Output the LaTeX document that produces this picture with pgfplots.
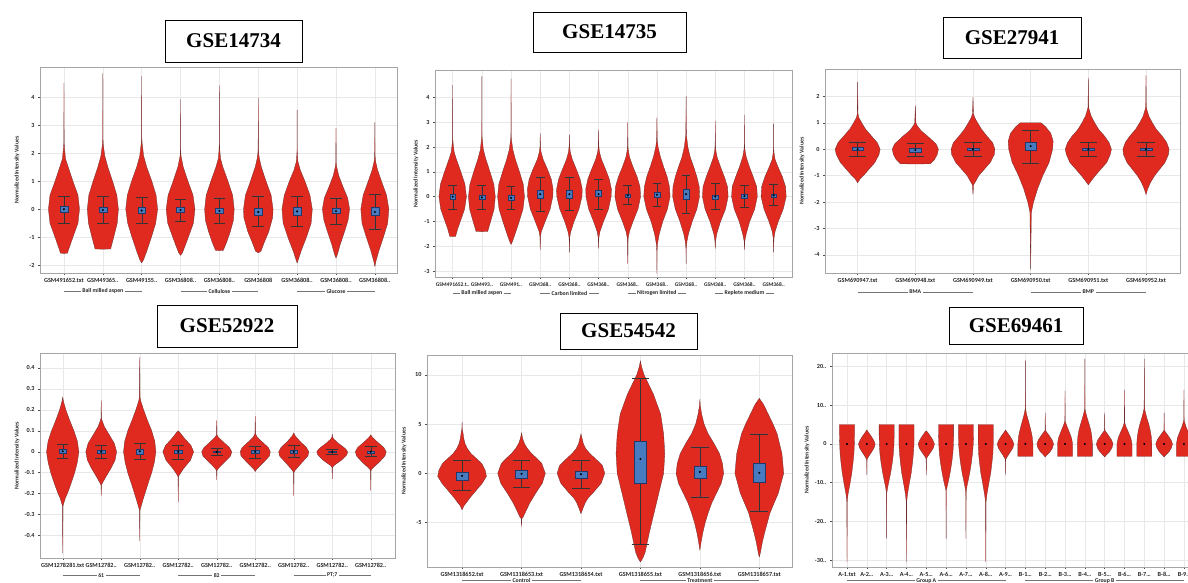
\documentclass[border=0pt]{standalone}
\usepackage{fontspec}
\setmainfont{Liberation Serif}
\setsansfont{Carlito}
\usepackage{pgfplots}
\pgfplotsset{compat=1.18}
\usepgfplotslibrary{statistics}
\definecolor{vred}{RGB}{224,42,32}
\definecolor{vedge}{RGB}{105,45,45}
\definecolor{bblue}{RGB}{72,122,192}
\definecolor{bedge}{RGB}{35,55,105}
\definecolor{frm}{RGB}{165,165,165}
\newcommand\tfont{\sffamily\bfseries\fontsize{6.2}{7}\selectfont}
\newcommand\gfont{\sffamily\bfseries\fontsize{5.8}{6.5}\selectfont}
\tikzset{tbox/.style={draw, line width=0.9pt, inner sep=0pt, font=\bfseries\fontsize{21}{24}\selectfont}}
\pgfplotsset{
  vio/.style={fill=vred, draw=vedge, line width=0.3pt, mark=none},
  boxplot/every whisker/.style={draw=black!80, line width=0.35pt},
  boxplot/every median/.style={draw=none},
  panel/.style={scale only axis, anchor=south west, clip=false,
    axis line style={frm, line width=0.9pt},
    grid=major, grid style={black!9, line width=0.4pt},
    tick pos=left, tick align=outside, major tick length=2pt,
    tick style={black!70, line width=0.4pt},
    ticklabel style={font=\tfont, text=black!85},
    /pgf/number format/assume math mode=true,
    ylabel={Normalized Intensity Values},
    ylabel style={font=\gfont, anchor=center, text=black!85}}
}
% violin: center, list of y/halfwidth (ascending y)
\newcommand\V[2]{%
  \gdef\Rc{}\gdef\Lc{}%
  \foreach \yy/\ww in {#2}{%
    \pgfmathsetmacro\xr{#1+\ww}%
    \pgfmathsetmacro\xl{#1-\ww}%
    \xdef\Rc{\Rc(\xr,\yy)}%
    \xdef\Lc{(\xl,\yy)\Lc}%
  }%
  \edef\tmp{\noexpand\addplot[vio] coordinates {\Rc\Lc};}%
  \tmp}
% box: center, lower whisker, q1, median, q3, upper whisker
\newcommand\B[6]{%
  \addplot[fill=bblue, draw=bedge, line width=0.35pt, boxplot/draw direction=y, boxplot prepared={draw position=#1, lower whisker=#2, lower quartile=#3, median=#4, upper quartile=#5, upper whisker=#6, box extend=0.2, whisker extend=0.3}] coordinates {};
  \addplot[only marks, mark=*, mark size=0.8pt, black] coordinates {(#1,#4)};}
% group bracket: x1, x2, xmid, text, ymin, shift
\newcommand\G[6]{%
  \draw[black!55, line width=0.4pt] ([yshift=#6]axis cs:#1,#5) -- ([yshift=#6]axis cs:#2,#5);
  \node[fill=white, inner xsep=1.5pt, inner ysep=0.3pt, font=\gfont, text=black!85] at ([yshift=#6]axis cs:#3,#5) {#4};}
\begin{document}
\begin{tikzpicture}
\useasboundingbox (0,0) rectangle (1188pt,583pt);
\clip (0,0) rectangle (1188pt,583pt);
\fill[white] (0,0) rectangle (1188pt,583pt);

% ---------------- Panel 1: GSE14734
\begin{axis}[panel, at={(40pt,310pt)}, width=357pt, height=206pt,
  xmin=0.383, xmax=9.57, ymin=-2.28, ymax=5.08, ytick={-2,-1,0,1,2,3,4},
  xtick={1,2,3,4,5,6,7,8,9}, xticklabels={{GSM491652.txt},{GSM49365..},{GSM49155..},{GSM36808..},{GSM36808..},{GSM36808},{GSM36808..},{GSM36808..},{GSM36808..}},
  ylabel style={at={(axis description cs:-0.064,0.5)}}]
\V{1}{-1.58/0,-1.57/0.09,-1.4/0.13,-1/0.23,-0.5/0.36,0/0.40,0.5/0.36,1/0.23,1.5/0.11,1.8/0.04,2.2/0.012,2.4/0.004,4.5/0}
\V{2}{-1.43/0,-1.42/0.2,-1/0.28,-0.5/0.37,0/0.40,0.5/0.36,1/0.25,1.5/0.13,1.9/0.05,2.3/0.012,2.5/0.004,4.85/0}
\V{3}{-1.92/0,-1.8/0.05,-1.5/0.13,-1/0.25,-0.5/0.36,0/0.41,0.5/0.37,1/0.26,1.5/0.13,1.9/0.05,2.35/0.012,2.5/0.004,4.75/0}
\V{4}{-1.65/0,-1.55/0.05,-1.3/0.12,-1/0.2,-0.5/0.33,0/0.37,0.5/0.32,1/0.19,1.5/0.07,1.9/0.012,2.1/0.004,3.92/0}
\V{5}{-1.48/0,-1.47/0.1,-1.2/0.18,-0.8/0.28,-0.4/0.36,0/0.38,0.5/0.34,1/0.22,1.5/0.09,1.8/0.03,2.1/0.01,2.3/0.004,4.42/0}
\V{6}{-1.56/0,-1.5/0.07,-1.2/0.15,-0.8/0.27,-0.3/0.37,0/0.38,0.5/0.33,1/0.2,1.5/0.08,1.8/0.03,2/0.01,2.2/0.004,3.97/0}
\V{7}{-1.93/0,-1.8/0.03,-1.5/0.1,-1/0.24,-0.5/0.36,0/0.39,0.5/0.33,1/0.2,1.4/0.08,1.7/0.02,1.95/0.008,2.1/0.003,3.55/0}
\V{8}{-1.75/0,-1.6/0.04,-1.3/0.1,-0.8/0.22,-0.4/0.31,0/0.35,0.4/0.3,0.8/0.18,1.2/0.07,1.5/0.02,1.65/0.006,2.9/0}
\V{9}{-2.05/0,-1.85/0.03,-1.5/0.1,-1/0.22,-0.5/0.33,0/0.36,0.5/0.3,1/0.17,1.4/0.07,1.7/0.02,1.9/0.006,3.1/0}
\B{1}{-0.5}{-0.1}{0}{0.1}{0.45}
\B{2}{-0.5}{-0.12}{-0.03}{0.08}{0.47}
\B{3}{-0.5}{-0.14}{-0.05}{0.06}{0.42}
\B{4}{-0.42}{-0.12}{-0.03}{0.07}{0.36}
\B{5}{-0.5}{-0.15}{-0.06}{0.05}{0.4}
\B{6}{-0.62}{-0.2}{-0.1}{0.04}{0.48}
\B{7}{-0.62}{-0.2}{-0.08}{0.06}{0.46}
\B{8}{-0.55}{-0.16}{-0.07}{0.04}{0.4}
\B{9}{-0.7}{-0.22}{-0.1}{0.08}{0.52}
\G{1}{3}{2}{Ball milled aspen}{-2.28}{-18pt}
\G{4}{6}{5}{Cellulose}{-2.28}{-18pt}
\G{7}{9}{8}{Glucose}{-2.28}{-18pt}
\end{axis}

% ---------------- Panel 2: GSE14735
\begin{axis}[panel, at={(435pt,306pt)}, width=357pt, height=207pt,
  xmin=0.394, xmax=12.63, ymin=-3.24, ymax=5.11, ytick={-3,-2,-1,0,1,2,3,4},
  xtick={1,2,3,4,5,6,7,8,9,10,11,12}, xticklabels={{GSM491652.t..},{GSM493..},{GSM491..},{GSM368..},{GSM368..},{GSM368..},{GSM368..},{GSM368..},{GSM368..},{GSM368..},{GSM368..},{GSM368..}},
  xticklabel style={font=\sffamily\bfseries\fontsize{5.5}{6.5}\selectfont},
  ylabel style={at={(axis description cs:-0.053,0.5)}}]
\V{1}{-1.61/0,-1.6/0.1,-1.3/0.17,-1/0.26,-0.5/0.41,0/0.47,0.5/0.42,1/0.28,1.5/0.13,1.8/0.05,2.15/0.015,2.3/0.005,4.5/0}
\V{2}{-1.41/0,-1.4/0.2,-1/0.3,-0.5/0.42,0/0.46,0.5/0.41,1/0.28,1.5/0.14,1.9/0.05,2.3/0.015,2.45/0.005,4.85/0}
\V{3}{-1.93/0,-1.8/0.05,-1.5/0.14,-1/0.28,-0.5/0.41,0/0.46,0.5/0.42,1/0.29,1.5/0.15,1.9/0.06,2.3/0.015,2.45/0.005,4.75/0}
\V{4}{-2.15/0,-1.6/0.01,-1.4/0.04,-1/0.17,-0.5/0.34,0/0.43,0.3/0.44,0.7/0.38,1.1/0.25,1.5/0.1,1.8/0.03,2/0.008,2.55/0}
\V{5}{-2.25/0,-1.65/0.01,-1.4/0.05,-1/0.16,-0.5/0.33,0/0.43,0.3/0.44,0.7/0.37,1.1/0.24,1.5/0.1,1.8/0.03,2.05/0.008,2.5/0}
\V{6}{-2.1/0,-1.65/0.01,-1.4/0.05,-1/0.17,-0.5/0.34,0/0.43,0.3/0.44,0.7/0.37,1.1/0.24,1.5/0.1,1.8/0.03,2.05/0.008,2.7/0}
\V{7}{-2.7/0,-1.7/0.01,-1.4/0.06,-1/0.18,-0.5/0.35,0/0.44,0.4/0.42,0.8/0.32,1.2/0.18,1.6/0.06,1.9/0.015,2.1/0.005,3/0}
\V{8}{-3.1/0,-2.2/0.005,-1.9/0.02,-1.5/0.08,-1/0.2,-0.5/0.36,0/0.45,0.4/0.43,0.8/0.35,1.2/0.23,1.6/0.12,2/0.04,2.3/0.01,3.2/0}
\V{9}{-2.7/0,-2.1/0.005,-1.8/0.03,-1.5/0.08,-1/0.21,-0.5/0.37,0/0.46,0.4/0.45,0.8/0.37,1.2/0.26,1.6/0.14,2/0.06,2.5/0.01,4.05/0}
\V{10}{-2.1/0,-1.8/0.01,-1.5/0.05,-1/0.18,-0.5/0.35,0/0.44,0.4/0.42,0.8/0.31,1.2/0.18,1.6/0.06,1.9/0.015,2.1/0.005,3.05/0}
\V{11}{-2.15/0,-1.8/0.01,-1.5/0.06,-1/0.18,-0.5/0.35,0/0.44,0.4/0.42,0.8/0.3,1.2/0.17,1.6/0.06,1.9/0.015,2.1/0.005,3.3/0}
\V{12}{-2.25/0,-1.7/0.01,-1.4/0.05,-1/0.16,-0.5/0.33,0/0.43,0.4/0.41,0.8/0.3,1.2/0.15,1.5/0.05,1.8/0.01,2/0.004,2.95/0}
\B{1}{-0.5}{-0.12}{0}{0.12}{0.47}
\B{2}{-0.5}{-0.12}{-0.03}{0.08}{0.47}
\B{3}{-0.5}{-0.14}{-0.05}{0.06}{0.42}
\B{4}{-0.6}{-0.05}{0.1}{0.28}{0.8}
\B{5}{-0.55}{-0.05}{0.1}{0.28}{0.8}
\B{6}{-0.5}{0}{0.1}{0.25}{0.7}
\B{7}{-0.3}{-0.02}{0.05}{0.12}{0.45}
\B{8}{-0.38}{-0.04}{0.08}{0.18}{0.55}
\B{9}{-0.68}{-0.1}{0.1}{0.32}{0.88}
\B{10}{-0.5}{-0.1}{0}{0.08}{0.55}
\B{11}{-0.42}{-0.08}{0.02}{0.1}{0.47}
\B{12}{-0.35}{-0.02}{0.05}{0.12}{0.52}
\G{1}{3}{2}{Ball milled aspen}{-3.24}{-16pt}
\G{4}{6}{5}{Carbon limited}{-3.24}{-16pt}
\G{7}{9}{8}{Nitrogen limited}{-3.24}{-16pt}
\G{10}{12}{11}{Replete medium}{-3.24}{-16pt}
\end{axis}

% ---------------- Panel 3: GSE27941
\begin{axis}[panel, at={(825pt,310pt)}, width=355pt, height=204pt,
  xmin=0.434, xmax=6.59, ymin=-4.69, ymax=3.04, ytick={-4,-3,-2,-1,0,1,2},
  xtick={1,2,3,4,5,6}, xticklabels={{GSM690947.txt},{GSM690948.txt},{GSM690949.txt},{GSM690950.txt},{GSM690951.txt},{GSM690952.txt}},
  ylabel style={at={(axis description cs:-0.065,0.5)}}]
\V{1}{-1.27/0,-1.1/0.05,-1/0.1,-0.75/0.2,-0.5/0.3,-0.2/0.37,0/0.39,0.25/0.34,0.5/0.24,0.75/0.14,1/0.07,1.2/0.02,1.35/0.006,2.55/0}
\V{2}{-0.56/0,-0.55/0.26,-0.4/0.33,-0.2/0.38,0/0.40,0.2/0.36,0.4/0.26,0.5/0.21,0.7/0.1,0.9/0.03,1.0/0.01,1.65/0}
\V{3}{-1.72/0,-1.35/0.01,-1.2/0.05,-1/0.1,-0.75/0.2,-0.5/0.3,-0.2/0.37,0/0.38,0.25/0.34,0.5/0.24,0.75/0.15,1/0.08,1.2/0.03,1.35/0.008,1.97/0}
\V{4}{-4.55/0,-2.4/0.012,-2.2/0.03,-2/0.05,-1.5/0.12,-1/0.21,-0.5/0.32,0/0.38,0.3/0.39,0.6/0.35,0.85/0.26,1/0.18,1/0}
\V{5}{-1.35/0,-1.2/0.05,-1/0.12,-0.75/0.22,-0.5/0.32,-0.2/0.38,0/0.40,0.25/0.36,0.5/0.28,0.75/0.18,1/0.11,1.25/0.05,1.5/0.015,1.6/0.005,2.7/0}
\V{6}{-1.72/0,-1.5/0.03,-1.25/0.08,-1/0.15,-0.75/0.24,-0.5/0.33,-0.2/0.39,0/0.40,0.25/0.36,0.5/0.28,0.75/0.18,1/0.11,1.25/0.05,1.5/0.015,1.6/0.005,2.8/0}
\B{1}{-0.28}{-0.05}{0}{0.08}{0.28}
\B{2}{-0.25}{-0.1}{-0.03}{0.05}{0.22}
\B{3}{-0.25}{-0.04}{0}{0.04}{0.25}
\B{4}{-0.52}{-0.05}{0.12}{0.28}{0.72}
\B{5}{-0.28}{-0.05}{0}{0.05}{0.25}
\B{6}{-0.25}{-0.04}{0}{0.04}{0.25}
\G{1}{3}{2}{BMA}{-4.69}{-19pt}
\G{4}{6}{5}{BMP}{-4.69}{-19pt}
\end{axis}

% ---------------- Panel 4: GSE52922
\begin{axis}[panel, at={(40pt,25pt)}, width=355pt, height=205pt,
  xmin=0.41, xmax=9.63, ymin=-0.507, ymax=0.471, ytick={-0.4,-0.3,-0.2,-0.1,0,0.1,0.2,0.3,0.4},
  xtick={1,2,3,4,5,6,7,8,9}, xticklabels={{GSM1278281.txt},{GSM12782..},{GSM12782..},{GSM12782..},{GSM12782..},{GSM12782..},{GSM12782..},{GSM12782..},{GSM12782..}},
  ylabel style={at={(axis description cs:-0.065,0.5)}}]
\V{1}{-0.485/0,-0.26/0.005,-0.25/0.02,-0.22/0.07,-0.2/0.12,-0.15/0.22,-0.1/0.31,-0.05/0.38,0/0.42,0.05/0.38,0.1/0.29,0.15/0.18,0.2/0.08,0.24/0.02,0.26/0}
\V{2}{-0.21/0,-0.16/0.005,-0.15/0.03,-0.12/0.12,-0.08/0.25,-0.04/0.36,0/0.40,0.04/0.34,0.08/0.21,0.12/0.08,0.15/0.02,0.16/0.005,0.245/0}
\V{3}{-0.425/0,-0.28/0.005,-0.27/0.02,-0.22/0.1,-0.15/0.22,-0.1/0.31,-0.05/0.38,0/0.42,0.05/0.39,0.1/0.31,0.15/0.2,0.2/0.1,0.24/0.03,0.26/0.008,0.45/0}
\V{4}{-0.24/0,-0.12/0.005,-0.11/0.03,-0.08/0.14,-0.04/0.32,0/0.40,0.03/0.33,0.06/0.18,0.09/0.05,0.1/0}
\V{5}{-0.135/0,-0.09/0.005,-0.08/0.04,-0.05/0.2,-0.02/0.36,0/0.39,0.02/0.33,0.05/0.15,0.07/0.04,0.08/0.006,0.15/0}
\V{6}{-0.095/0,-0.085/0.03,-0.05/0.22,-0.02/0.37,0/0.39,0.02/0.34,0.05/0.16,0.07/0.05,0.085/0.008,0.17/0}
\V{7}{-0.21/0,-0.1/0.005,-0.09/0.03,-0.05/0.22,-0.02/0.37,0/0.39,0.02/0.33,0.05/0.16,0.075/0.04,0.09/0}
\V{8}{-0.13/0,-0.075/0.005,-0.065/0.05,-0.04/0.24,-0.015/0.38,0/0.40,0.015/0.34,0.04/0.16,0.06/0.04,0.07/0.008,0.085/0}
\V{9}{-0.185/0,-0.09/0.005,-0.08/0.04,-0.05/0.22,-0.02/0.37,0/0.40,0.02/0.34,0.05/0.15,0.07/0.04,0.08/0}
\B{1}{-0.03}{-0.008}{0.002}{0.01}{0.035}
\B{2}{-0.032}{-0.006}{0}{0.006}{0.032}
\B{3}{-0.035}{-0.01}{0.002}{0.012}{0.04}
\B{4}{-0.035}{-0.006}{0}{0.006}{0.03}
\B{5}{-0.018}{-0.004}{0}{0.004}{0.018}
\B{6}{-0.03}{-0.006}{0}{0.006}{0.028}
\B{7}{-0.025}{-0.006}{0}{0.006}{0.03}
\B{8}{-0.012}{-0.003}{0}{0.003}{0.012}
\B{9}{-0.02}{-0.005}{0}{0.005}{0.025}
\G{1}{3}{2}{61}{-0.507}{-17.5pt}
\G{4}{6}{5}{82}{-0.507}{-17.5pt}
\G{7}{9}{8}{PT;7}{-0.507}{-17.5pt}
\end{axis}

% ---------------- Panel 5: GSE54542
\begin{axis}[panel, at={(427pt,16pt)}, width=365pt, height=212pt,
  xmin=0.41, xmax=6.55, ymin=-9.5, ymax=12.0, ytick={-5,0,5,10},
  xtick={1,2,3,4,5,6}, xticklabels={{GSM1318652.txt},{GSM1318653.txt},{GSM1318654.txt},{GSM1318655.txt},{GSM1318656.txt},{GSM1318657.txt}},
  ylabel style={at={(axis description cs:-0.063,0.5)}}]
\V{1}{-3.7/0,-3.3/0.03,-3/0.07,-2.5/0.13,-2/0.2,-1/0.34,-0.3/0.41,0.3/0.39,1/0.33,1.5/0.24,2/0.15,2.5/0.09,3/0.05,3.5/0.03,4.3/0.01,4.4/0.004,5.2/0}
\V{2}{-5.4/0,-4.6/0.005,-4.4/0.03,-4/0.06,-3/0.14,-2/0.24,-1/0.35,0/0.40,1/0.34,1.5/0.26,2/0.17,2.5/0.1,3/0.05,3.5/0.02,4.1/0}
\V{3}{-4.1/0,-3.6/0.03,-3/0.07,-2.5/0.12,-2/0.2,-1/0.34,0/0.40,0.8/0.36,1.5/0.24,2/0.15,2.5/0.08,3/0.04,3.5/0.02,4/0}
\V{4}{-9/0,-8.6/0.04,-8/0.08,-6/0.15,-4/0.23,-2/0.31,0/0.39,2/0.41,4/0.39,6/0.34,8/0.22,9/0.14,10/0.06,10.8/0.02,11.4/0}
\V{5}{-7.8/0,-7/0.02,-6/0.05,-5/0.09,-4/0.14,-3/0.2,-2/0.28,-1/0.36,0/0.40,1/0.38,2/0.33,3/0.24,4/0.14,5/0.07,6/0.03,6.8/0.008,7.5/0}
\V{6}{-8.5/0,-8/0.02,-7/0.05,-6/0.09,-4/0.18,-2/0.32,0/0.41,2/0.38,4/0.30,5/0.23,6/0.15,7/0.07,7.6/0}
\B{1}{-1.7}{-0.7}{-0.25}{0.15}{1.3}
\B{2}{-1.4}{-0.45}{-0.05}{0.35}{1.35}
\B{3}{-1.55}{-0.5}{-0.1}{0.25}{1.35}
\B{4}{-7.2}{-0.95}{1.45}{3.3}{9.6}
\B{5}{-2.4}{-0.5}{0.15}{0.75}{2.7}
\B{6}{-3.8}{-0.85}{0.05}{1.05}{4.0}
\G{1}{3}{2}{Control}{-9.5}{-13.6pt}
\G{4}{6}{5}{Treatment}{-9.5}{-13.6pt}
\end{axis}

% ---------------- Panel 6: GSE69461
\begin{axis}[panel, at={(832pt,16pt)}, width=367pt, height=214pt,
  xmin=0.243, xmax=18.76, ymin=-31.8, ymax=23.5,
  ytick={-30,-20,-10,0,10,20}, yticklabels={{-30..},{-20..},{-10..},{0},{10..},{20..}},
  xtick={1,2,3,4,5,6,7,8,9,10,11,12,13,14,15,16,17,18}, xticklabels={{A-1.txt},{A-2\dots},{A-3\dots},{A-4\dots},{A-5\dots},{A-6\dots},{A-7\dots},{A-8\dots},{A-9\dots},{B-1\dots},{B-2\dots},{B-3\dots},{B-4\dots},{B-5\dots},{B-6\dots},{B-7\dots},{B-8\dots},{B-9.t}},
  ylabel style={at={(axis description cs:-0.068,0.5)}}]
\V{1}{-30.5/0,-15/0.01,-13/0.05,-10/0.16,-7.5/0.24,-5/0.3,-2.5/0.35,0/0.37,2.5/0.38,5/0.38,5/0}
\V{2}{-8/0,-4/0.01,-3.5/0.06,-2/0.25,-1/0.37,0/0.42,1/0.34,2/0.22,3/0.08,3.6/0}
\V{3}{-24.5/0,-12.5/0.01,-11/0.06,-10/0.1,-7.5/0.2,-5/0.28,-2.5/0.34,0/0.37,2.5/0.38,5/0.38,5/0}
\V{4}{-30.5/0,-15/0.01,-13/0.05,-10/0.15,-7.5/0.24,-5/0.3,-2.5/0.35,0/0.38,2.5/0.38,5/0.38,5/0}
\V{5}{-8/0,-3.8/0.01,-3.3/0.06,-2/0.24,-1/0.36,0/0.41,1/0.33,2/0.21,3/0.07,3.4/0}
\V{6}{-24.5/0,-12/0.01,-10/0.1,-7.5/0.2,-5/0.28,-2.5/0.34,0/0.37,2.5/0.38,5/0.38,5/0}
\V{7}{-24.5/0,-12.5/0.01,-11/0.05,-10/0.09,-7.5/0.19,-5/0.27,-2.5/0.33,0/0.37,2.5/0.38,5/0.38,5/0}
\V{8}{-30.5/0,-15/0.01,-13/0.06,-10/0.16,-7.5/0.25,-5/0.31,-2.5/0.36,0/0.38,2.5/0.38,5/0.38,5/0}
\V{9}{-8/0,-4/0.01,-3.5/0.06,-2/0.25,-1/0.37,0/0.42,1/0.34,2/0.22,3/0.08,3.6/0}
\V{10}{-3.2/0,-3.2/0.38,0/0.38,2/0.34,3/0.3,4.5/0.23,6/0.15,7.5/0.07,8.5/0.03,9.2/0.008,21.5/0}
\V{11}{-3.4/0,-3/0.06,-2/0.25,-1/0.37,0/0.42,1/0.35,2/0.22,3/0.08,3.5/0.01,8/0}
\V{12}{-3.2/0,-3.2/0.38,0/0.38,1.5/0.33,3/0.22,4.5/0.1,5.5/0.03,6/0.008,13.8/0}
\V{13}{-3.2/0,-3.2/0.38,0/0.38,2/0.35,3.5/0.3,5/0.22,6.5/0.13,8/0.05,9/0.01,22/0}
\V{14}{-3.4/0,-3/0.06,-2/0.25,-1/0.37,0/0.42,1/0.35,2/0.22,3/0.08,3.5/0.01,8/0}
\V{15}{-3.2/0,-3.2/0.38,0/0.38,1.5/0.32,3/0.2,4.5/0.07,5.5/0.01,14/0}
\V{16}{-3.2/0,-3.2/0.38,0/0.38,2/0.35,3.5/0.3,5/0.23,6.5/0.14,8/0.06,9.2/0.01,22/0}
\V{17}{-3.4/0,-3/0.06,-2/0.25,-1/0.37,0/0.42,1/0.35,2/0.22,3/0.08,3.5/0.01,8/0}
\V{18}{-3.2/0,-3.2/0.38,0/0.38,1.5/0.33,3/0.22,4.5/0.1,5.7/0.03,6.2/0.008,14/0}
\addplot[only marks, mark=*, mark size=0.8pt, black] coordinates {(1,0)(2,0)(3,0)(4,0)(5,0)(6,0)(7,0)(8,0)(9,0)(10,0)(11,0)(12,0)(13,0)(14,0)(15,0)(16,0)(17,0)(18,0)};
\G{1}{9}{5}{Group A}{-31.8}{-13.6pt}
\G{10}{18}{14}{Group B}{-31.8}{-13.6pt}
\end{axis}

% ---------------- Titles
\node[tbox, minimum width=137pt, minimum height=42pt] at (233.5pt,542pt) {GSE14734};
\node[tbox, minimum width=153pt, minimum height=40pt] at (609.5pt,551pt) {GSE14735};
\node[tbox, minimum width=138pt, minimum height=41pt] at (1012pt,545.5pt) {GSE27941};
\node[tbox, minimum width=140pt, minimum height=42pt] at (227pt,257pt) {GSE52922};
\node[tbox, minimum width=137pt, minimum height=36pt] at (628.5pt,252pt) {GSE54542};
\node[tbox, minimum width=134pt, minimum height=37pt] at (1016pt,257pt) {GSE69461};
\end{tikzpicture}
\end{document}
